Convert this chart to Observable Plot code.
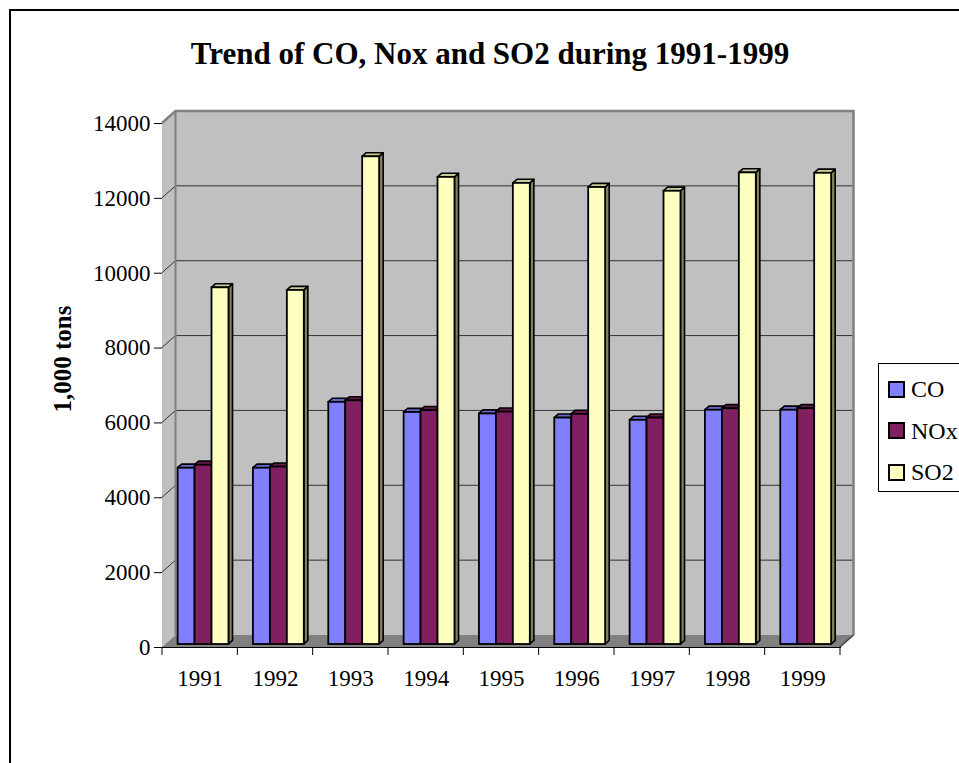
<!DOCTYPE html>
<html>
<head>
<meta charset="utf-8">
<script src="https://cdn.jsdelivr.net/npm/d3@7"></script>
<script src="https://cdn.jsdelivr.net/npm/@observablehq/plot@0.6"></script>
<style>
  body { margin: 0; background: #fff; overflow: hidden; }
  #page { position: relative; width: 959px; height: 763px; overflow: hidden;
          font-family: "Liberation Serif", "Times New Roman", serif; color: #000; }
  #chart { position: absolute; left: 0; top: 0; }
  #frame { position: absolute; left: 9px; top: 9px; width: 1100px; height: 1100px;
           border: 2px solid #000; box-sizing: border-box; pointer-events: none; }
  #title { position: absolute; left: 490px; top: 38px; transform: translateX(-50%);
           font-weight: bold; font-size: 31px; line-height: 31px; white-space: nowrap; }
  #ylabel { position: absolute; left: 62px; top: 359px; transform: translate(-50%, -50%) rotate(-90deg);
            font-weight: bold; font-size: 25px; line-height: 25px; white-space: nowrap; }
  #legend { position: absolute; left: 878px; top: 363px; width: 120px; height: 129px;
            border: 1px solid #000; box-sizing: border-box; background: #fff; }
  #legend .item { position: absolute; left: 9px; height: 24px; display: flex; align-items: center;
                  font-size: 24px; line-height: 24px; }
  #legend .sw { width: 13px; height: 13px; border: 2px solid #000; margin-right: 6px; box-sizing: content-box; }
</style>
</head>
<body>
<div id="page">
  <div id="chart"></div>
  <div id="title">Trend of CO, Nox and SO2 during 1991-1999</div>
  <div id="ylabel">1,000 tons</div>
  <div id="legend"></div>
  <div id="frame"></div>
</div>
<script>
// Emissions per year, in thousands of tons
const years = ["1991", "1992", "1993", "1994", "1995", "1996", "1997", "1998", "1999"];
const seriesNames = ["CO", "NOx", "SO2"];
const coValues  = [4710, 4710, 6470, 6200, 6160, 6050, 5990, 6260, 6260];
const noxValues = [4790, 4740, 6510, 6250, 6210, 6150, 6050, 6300, 6300];
const so2Values = [9530, 9460, 13030, 12480, 12320, 12210, 12110, 12600, 12590];
const yTicks = [0, 2000, 4000, 6000, 8000, 10000, 12000, 14000];

const frontColors = ["#8080FF", "#802060", "#FFFFC0"];
const topColors   = ["#6666CC", "#661A4D", "#CCCC99"];
const sideColors  = ["#404080", "#401030", "#808060"];

const valuesBySeries = [coValues, noxValues, so2Values];
const yMax = yTicks[yTicks.length - 1];

// Layout of a year band (fractions of the band) and the 3D depth vector (pixels)
const groupStart = 0.1625, barWidth = 0.225;
const DX = 13.5, DY = -12;
const barFront = 0.25, barBack = 0.55;

const rows = valuesBySeries.map((vals, k) => vals.map((v, i) => ({
  year: years[i], series: seriesNames[k], value: v,
  x1: i + groupStart + k * barWidth, x2: i + groupStart + (k + 1) * barWidth
})));

const pts = arr => arr.map(p => p.join(",")).join(" ");

// Back wall, side wall, floor, gridlines and tick marks of the 3D box
function box(index, scales) {
  const P = (x, y, d) => [scales.x(x) + d * DX, scales.y(y) + d * DY];
  const g = d3.create("svg:g");
  const n = years.length;
  g.append("polygon").attr("points", pts([P(0, 0, 1), P(n, 0, 1), P(n, yMax, 1), P(0, yMax, 1)])).attr("fill", "#C0C0C0");
  g.append("polygon").attr("points", pts([P(0, 0, 0), P(0, 0, 1), P(0, yMax, 1), P(0, yMax, 0)])).attr("fill", "#C0C0C0");
  g.append("polygon").attr("points", pts([P(0, 0, 0), P(n, 0, 0), P(n, 0, 1), P(0, 0, 1)])).attr("fill", "#808080");
  for (const t of yTicks) {
    if (t <= 0 || t >= yMax) continue;
    g.append("polyline").attr("points", pts([P(0, t, 0), P(0, t, 1), P(n, t, 1)]))
      .attr("fill", "none").attr("stroke", "#333").attr("stroke-width", 1);
  }
  g.append("polyline").attr("points", pts([P(0, yMax, 0), P(0, yMax, 1), P(n, yMax, 1), P(n, 0, 1)]))
    .attr("fill", "none").attr("stroke", "#808080").attr("stroke-width", 2.5);
  g.append("line").attr("x1", P(0, 0, 1)[0]).attr("y1", P(0, 0, 1)[1]).attr("x2", P(0, yMax, 1)[0]).attr("y2", P(0, yMax, 1)[1])
    .attr("stroke", "#808080").attr("stroke-width", 2);
  g.append("line").attr("x1", P(n, 0, 0)[0]).attr("y1", P(n, 0, 0)[1]).attr("x2", P(n, 0, 1)[0]).attr("y2", P(n, 0, 1)[1])
    .attr("stroke", "#404040").attr("stroke-width", 1.5);
  for (let i = 0; i <= n; i++) {
    const [x, y] = P(i, 0, 0);
    g.append("line").attr("x1", x).attr("y1", y).attr("x2", x).attr("y2", y + 8)
      .attr("stroke", "#000").attr("stroke-width", 1);
  }
  return g.node();
}

// Top and side faces of one series' bars
const barFaces = k => (index, scales) => {
  const P = (x, y, d) => [scales.x(x) + d * DX, scales.y(y) + d * DY];
  const g = d3.create("svg:g").attr("stroke", "#000").attr("stroke-width", 1.6).attr("stroke-linejoin", "round");
  for (const r of rows[k]) {
    g.append("polygon").attr("fill", sideColors[k])
      .attr("points", pts([P(r.x2, 0, barFront), P(r.x2, r.value, barFront), P(r.x2, r.value, barBack), P(r.x2, 0, barBack)]));
    g.append("polygon").attr("fill", topColors[k])
      .attr("points", pts([P(r.x1, r.value, barFront), P(r.x2, r.value, barFront), P(r.x2, r.value, barBack), P(r.x1, r.value, barBack)]));
  }
  return g.node();
};

const marks = [box];
seriesNames.forEach((s, k) => {
  marks.push(barFaces(k));
  marks.push(Plot.rect(rows[k], {
    x1: "x1", x2: "x2", y1: 0, y2: "value",
    fill: frontColors[k], stroke: "#000", strokeWidth: 1.8,
    dx: barFront * DX, dy: barFront * DY
  }));
});

const chart = Plot.plot({
  width: 959,
  height: 763,
  marginLeft: 162,
  marginRight: 119,
  marginTop: 123,
  marginBottom: 116,
  style: { fontFamily: '"Liberation Serif", "Times New Roman", serif', fontSize: "23px", background: "transparent", color: "#000" },
  x: {
    domain: [0, years.length],
    ticks: years.map((_, i) => i + 0.5),
    tickFormat: d => years[Math.floor(d)],
    tickSize: 0, tickPadding: 22, label: null, line: true
  },
  y: {
    domain: [0, yMax],
    ticks: yTicks,
    tickFormat: d => String(d),
    tickSize: 8, tickPadding: 4, label: null, line: true
  },
  marks
});
document.getElementById("chart").appendChild(chart);

// Legend
const legend = document.getElementById("legend");
seriesNames.forEach((s, k) => {
  const item = document.createElement("div");
  item.className = "item";
  item.style.top = (13 + k * 41.5) + "px";
  const sw = document.createElement("div");
  sw.className = "sw";
  sw.style.background = frontColors[k];
  item.appendChild(sw);
  item.appendChild(document.createTextNode(s));
  legend.appendChild(item);
});
</script>
</body>
</html>
